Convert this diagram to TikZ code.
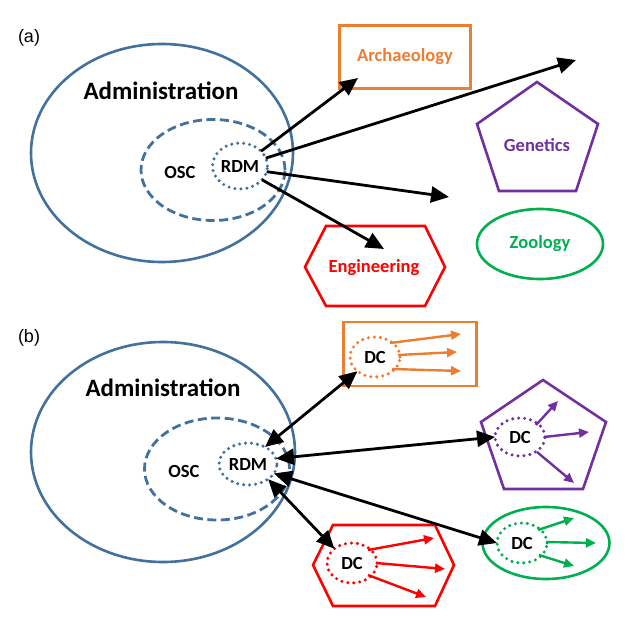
\documentclass[tikz,border=0pt]{standalone}
\usepackage{fontspec}
\setmainfont{Carlito}
\newfontfamily\labfont{Liberation Sans}
\usetikzlibrary{arrows.meta,shapes.geometric}
\definecolor{admblue}{RGB}{65,113,156}
\definecolor{orng}{RGB}{237,125,49}
\definecolor{purp}{RGB}{112,48,160}
\definecolor{grn}{RGB}{0,176,80}
\definecolor{rd}{RGB}{255,0,0}
\begin{document}
\begin{tikzpicture}[x=1pt,y=-1pt,
  big/.style={font=\fontsize{25}{27}\selectfont\bfseries},
  mid/.style={font=\fontsize{18.5}{20}\selectfont\bfseries},
  lab/.style={font=\labfont\fontsize{18}{20}\selectfont},
  outerell/.style={ellipse, draw=admblue, line width=2.6pt, inner sep=0pt, outer sep=0pt},
  oscell/.style={ellipse, draw=admblue, line width=2.8pt, dash pattern=on 9pt off 4.5pt, inner sep=0pt, outer sep=0pt},
  dotell/.style={ellipse, line width=3.4pt, dash pattern=on 0pt off 6pt, line cap=round, inner sep=0pt, outer sep=0pt, mid},
  shapeline/.style={line width=2.6pt, line join=miter},
  bigarrow/.style={line width=2.8pt, -{Triangle[length=18pt,width=16pt]}},
  dblarrow/.style={line width=2.8pt, {Triangle[length=18pt,width=16pt]}-{Triangle[length=18pt,width=16pt]}},
  smallarrow/.style={line width=2.4pt, -{Triangle[length=10pt,width=9pt]}}
]
\useasboundingbox (0,0) rectangle (640,621);

% ================= (a) =================
\node[lab] (la) at (29,38) {(a)};
\node[outerell, minimum width=262pt, minimum height=218pt] (admA) at (162,153) {};
\node[big] (admAt) at (161,91) {Administration};
\node[oscell, minimum width=144pt, minimum height=101pt] (oscA) at (213,170) {};
\node[mid] (oscAt) at (180,172) {OSC};
\node[dotell, draw=admblue, minimum width=55pt, minimum height=46pt] (rdmA) at (240,166) {RDM};

% Archaeology
\node[draw=orng, line width=2.6pt, minimum width=131pt, minimum height=63pt, text=orng, mid] (arch) at (405,57) {Archaeology};
% Genetics pentagon
\coordinate (g1) at (537,82);
\coordinate (g2) at (598,124);
\coordinate (g3) at (576,191);
\coordinate (g4) at (499,191);
\coordinate (g5) at (477,124);
\draw[shapeline, draw=purp] (g1) -- (g2) -- (g3) -- (g4) -- (g5) -- cycle;
\node[mid, text=purp] (gen) at (537,145) {Genetics};
% Zoology
\node[ellipse, draw=grn, line width=2.6pt, minimum width=126pt, minimum height=70pt, text=grn, mid, inner sep=0pt] (zoo) at (540,244) {Zoology};
% Engineering hexagon
\coordinate (e1) at (305,267);
\coordinate (e2) at (326,226);
\coordinate (e3) at (425,226);
\coordinate (e4) at (445,267);
\coordinate (e5) at (425,306);
\coordinate (e6) at (326,306);
\draw[shapeline, draw=rd] (e1) -- (e2) -- (e3) -- (e4) -- (e5) -- (e6) -- cycle;
\node[mid, text=rd] (eng) at (374,268) {Engineering};

% arrows (a)
\coordinate (ta1) at (358,78);
\coordinate (ta2) at (576,60);
\coordinate (ta3) at (449,197);
\coordinate (ta4) at (384,249);
\draw[bigarrow] (rdmA.35) -- (ta1);
\draw[bigarrow] (rdmA.17) -- (ta2);
\draw[bigarrow] (rdmA.-12) -- (ta3);
\draw[bigarrow] (rdmA.-32) -- (ta4);

% ================= (b) =================
\node[lab] (lb) at (29,338) {(b)};
\node[outerell, minimum width=264pt, minimum height=220pt] (admB) at (163,452) {};
\node[big] (admBt) at (163,388) {Administration};
\node[oscell, minimum width=145pt, minimum height=102pt] (oscB) at (217,469) {};
\node[mid] (oscBt) at (184,471) {OSC};
\node[dotell, draw=admblue, minimum width=58pt, minimum height=42pt] (rdmB) at (248,464) {RDM};

% orange box
\node[draw=orng, line width=2.6pt, minimum width=133pt, minimum height=64pt] (archB) at (410,354) {};
\node[dotell, draw=orng, minimum width=50pt, minimum height=40pt] (dcO) at (375,357) {DC};
\coordinate (o1) at (461,334);
\coordinate (o2) at (457,352);
\coordinate (o3) at (461,371);
\draw[smallarrow, draw=orng] (390,343) -- (o1);
\draw[smallarrow, draw=orng] (398,355) -- (o2);
\draw[smallarrow, draw=orng] (392,369) -- (o3);

% purple pentagon
\coordinate (p1) at (543,380);
\coordinate (p2) at (606,422);
\coordinate (p3) at (583,489);
\coordinate (p4) at (504,489);
\coordinate (p5) at (481,422);
\draw[shapeline, draw=purp] (p1) -- (p2) -- (p3) -- (p4) -- (p5) -- cycle;
\node[dotell, draw=purp, minimum width=50pt, minimum height=38pt] (dcP) at (520,437) {DC};
\coordinate (q1) at (558,401);
\coordinate (q2) at (589,432);
\coordinate (q3) at (574,483);
\draw[smallarrow, draw=purp] (536,425) -- (q1);
\draw[smallarrow, draw=purp] (544,437) -- (q2);
\draw[smallarrow, draw=purp] (537,452) -- (q3);

% red hexagon
\coordinate (h1) at (313,565);
\coordinate (h2) at (333,525);
\coordinate (h3) at (435,525);
\coordinate (h4) at (454,565);
\coordinate (h5) at (435,606);
\coordinate (h6) at (333,606);
\draw[shapeline, draw=rd] (h1) -- (h2) -- (h3) -- (h4) -- (h5) -- (h6) -- cycle;
\node[dotell, draw=rd, minimum width=50pt, minimum height=40pt] (dcR) at (352,563) {DC};
\coordinate (r1) at (434,538);
\coordinate (r2) at (445,569);
\coordinate (r3) at (426,597);
\draw[smallarrow, draw=rd] (368,550) -- (r1);
\draw[smallarrow, draw=rd] (376,563) -- (r2);
\draw[smallarrow, draw=rd] (368,575) -- (r3);

% green ellipse
\node[ellipse, draw=grn, line width=2.6pt, minimum width=127pt, minimum height=72pt, inner sep=0pt] (zooB) at (546,543) {};
\node[dotell, draw=grn, minimum width=50pt, minimum height=40pt] (dcG) at (522,543) {DC};
\coordinate (s1) at (574,518);
\coordinate (s2) at (596,543);
\coordinate (s3) at (574,566);
\draw[smallarrow, draw=grn] (538,530) -- (s1);
\draw[smallarrow, draw=grn] (546,542) -- (s2);
\draw[smallarrow, draw=grn] (539,555) -- (s3);

% double arrows (b)
\draw[dblarrow] (rdmB.45) -- (dcO.219);
\draw[dblarrow] (rdmB.11) -- (dcP.180);
\draw[dblarrow] (rdmB.-20) -- (dcG.180);
\draw[dblarrow] (rdmB.-37) -- (dcR.141);
\end{tikzpicture}
\end{document}
